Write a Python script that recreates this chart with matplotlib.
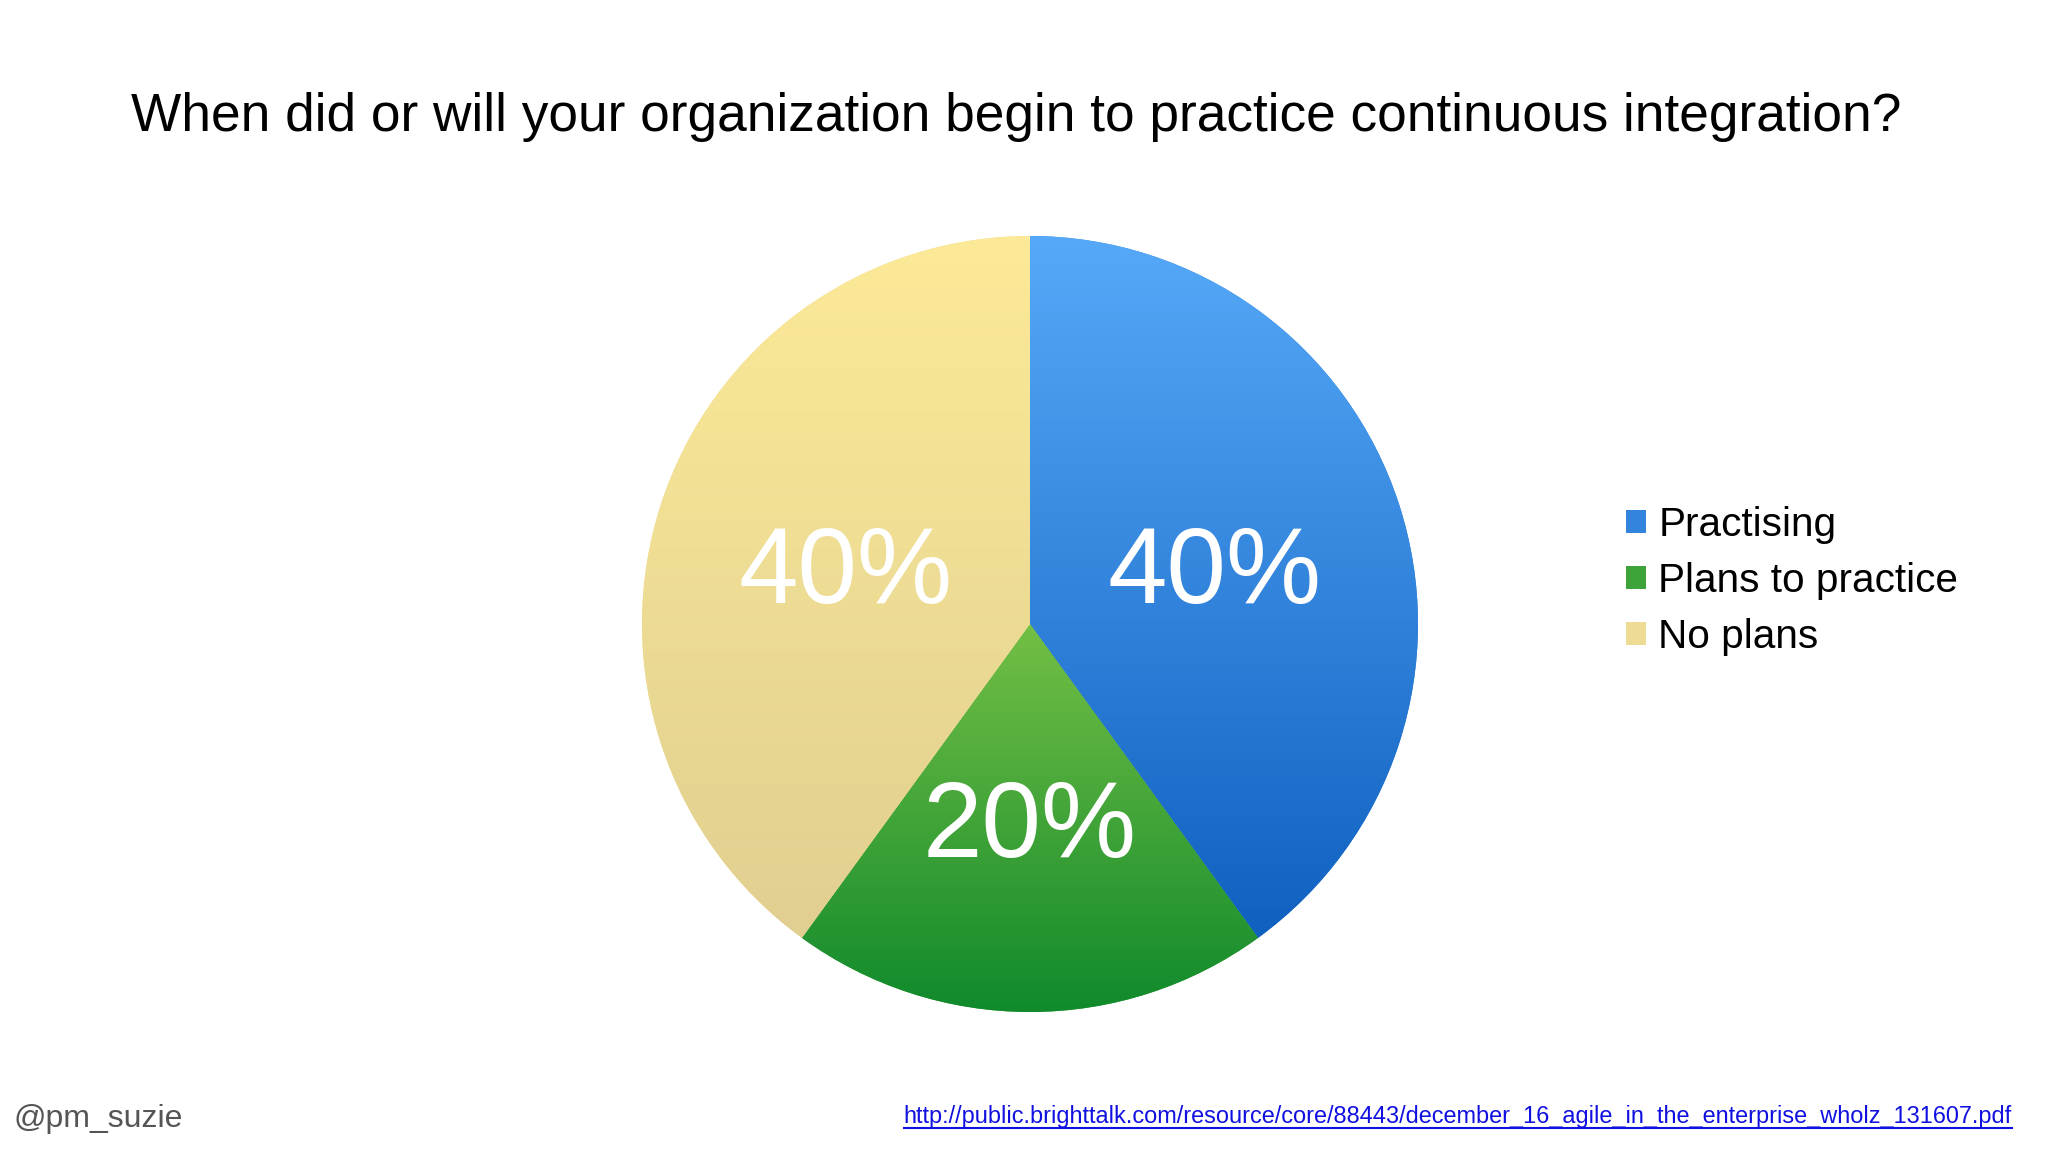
import matplotlib.pyplot as plt
import numpy as np
from matplotlib.colors import LinearSegmentedColormap

plt.rcParams['font.family'] = ['Liberation Sans', 'DejaVu Sans']

title = "When did or will your organization begin to practice continuous integration?"
labels = ["Practising", "Plans to practice", "No plans"]
shares = [40, 20, 40]
# (top colour, bottom colour) of each wedge's vertical gradient
grad_top = ["#56A9F8", "#74BF45", "#FCEA98"]
grad_bottom = ["#1060C0", "#108A2C", "#E0CF90"]
mid_colors = ["#3384DC", "#3EA439", "#EEDC94"]
handle = "@pm_suzie"
source = "http://public.brighttalk.com/resource/core/88443/december_16_agile_in_the_enterprise_wholz_131607.pdf"

W, H = 2048, 1152
fig = plt.figure(figsize=(W / 100, H / 100), dpi=100)
fig.patch.set_facecolor("white")

cx, cy, r = 1030, 624, 388
ax = fig.add_axes([(cx - r) / W, (H - cy - r) / H, 2 * r / W, 2 * r / H])

wedges, texts, autotexts = ax.pie(
    shares, colors=mid_colors, startangle=90, counterclock=False,
    autopct="%d%%", pctdistance=0.5,
    textprops=dict(color="white", fontsize=77),
)
ax.set_xlim(-1, 1)
ax.set_ylim(-1, 1)
ax.set_aspect("equal")

# vertical gradient fill, clipped to each wedge
for w, c0, c1 in zip(wedges, grad_top, grad_bottom):
    bb = w.get_path().get_extents(w.get_patch_transform())
    cmap = LinearSegmentedColormap.from_list("g", [c1, c0])
    grad = np.linspace(0, 1, 256).reshape(-1, 1)
    im = ax.imshow(grad, cmap=cmap, origin="lower", aspect="auto",
                   extent=(bb.x0, bb.x1, bb.y0, bb.y1), zorder=w.get_zorder())
    im.set_clip_path(w)
for t in autotexts:
    t.set_zorder(5)
    x, y = t.get_position()
    t.set_position((x, y - 0.028))

fig.text(1016 / W, 1 - 117 / H, title, ha="center", va="center", fontsize=38.3)

fig.legend(wedges, labels, loc="center left",
           bbox_to_anchor=(1626 / W, 1 - 581 / H), frameon=False,
           fontsize=29.2, handlelength=0.5, handleheight=0.5,
           handletextpad=0.3, labelspacing=0.45, borderpad=0, borderaxespad=0)

fig.text(14 / W, 1 - 1119 / H, handle, ha="left", va="center",
         fontsize=23, color="#555555")
url = fig.text(2012 / W, 1 - 1117 / H, source, ha="right", va="center",
               fontsize=16.9, color="#1010E0",
               family=["Liberation Sans Narrow", "Liberation Sans"], url=source)
# underline under the link text
fig.canvas.draw()
bb = url.get_window_extent()
fig.add_artist(plt.Line2D([bb.x0 / W, bb.x1 / W], [(bb.y0 + 1) / H, (bb.y0 + 1) / H],
                          color="#1010E0", lw=1.5))

fig.savefig("out.png", dpi=100, facecolor="white")
